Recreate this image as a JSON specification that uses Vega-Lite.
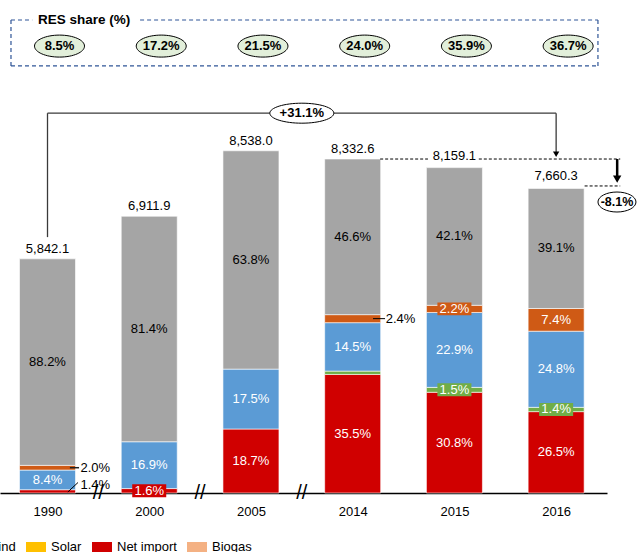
{
  "$schema": "https://vega.github.io/schema/vega-lite/v6.json",
  "width": 607,
  "height": 493,
  "autosize": {"type": "none"},
  "padding": {"left": 0, "top": 0, "right": 31, "bottom": 59},
  "background": "white",
  "config": {"view": {"stroke": null}, "font": "Liberation Sans", "text": {"font": "Liberation Sans", "fontSize": 13}},
  "datasets": {
    "seg": [
      {"idx": 0, "yr": "1990", "s": "Net import", "k": 1, "v": 81.8, "p": "1.4%"},
      {"idx": 0, "yr": "1990", "s": "Hydro", "k": 3, "v": 490.7, "p": "8.4%"},
      {"idx": 0, "yr": "1990", "s": "Natural gas", "k": 4, "v": 116.8, "p": "2.0%"},
      {"idx": 0, "yr": "1990", "s": "Lignite", "k": 5, "v": 5152.7, "p": "88.2%"},
      {"idx": 1, "yr": "2000", "s": "Net import", "k": 1, "v": 110.6, "p": "1.6%"},
      {"idx": 1, "yr": "2000", "s": "Hydro", "k": 3, "v": 1168.1, "p": "16.9%"},
      {"idx": 1, "yr": "2000", "s": "Lignite", "k": 5, "v": 5626.3, "p": "81.4%"},
      {"idx": 2, "yr": "2005", "s": "Net import", "k": 1, "v": 1596.6, "p": "18.7%"},
      {"idx": 2, "yr": "2005", "s": "Hydro", "k": 3, "v": 1494.2, "p": "17.5%"},
      {"idx": 2, "yr": "2005", "s": "Lignite", "k": 5, "v": 5447.2, "p": "63.8%"},
      {"idx": 3, "yr": "2014", "s": "Net import", "k": 1, "v": 2958.1, "p": "35.5%"},
      {"idx": 3, "yr": "2014", "s": "Wind", "k": 2, "v": 83.3, "p": ""},
      {"idx": 3, "yr": "2014", "s": "Hydro", "k": 3, "v": 1208.2, "p": "14.5%"},
      {"idx": 3, "yr": "2014", "s": "Natural gas", "k": 4, "v": 200.0, "p": "2.4%"},
      {"idx": 3, "yr": "2014", "s": "Lignite", "k": 5, "v": 3883.0, "p": "46.6%"},
      {"idx": 4, "yr": "2015", "s": "Net import", "k": 1, "v": 2513.0, "p": "30.8%"},
      {"idx": 4, "yr": "2015", "s": "Wind", "k": 2, "v": 122.4, "p": "1.5%"},
      {"idx": 4, "yr": "2015", "s": "Hydro", "k": 3, "v": 1868.4, "p": "22.9%"},
      {"idx": 4, "yr": "2015", "s": "Natural gas", "k": 4, "v": 179.5, "p": "2.2%"},
      {"idx": 4, "yr": "2015", "s": "Lignite", "k": 5, "v": 3434.9, "p": "42.1%"},
      {"idx": 5, "yr": "2016", "s": "Net import", "k": 1, "v": 2030.0, "p": "26.5%"},
      {"idx": 5, "yr": "2016", "s": "Wind", "k": 2, "v": 107.2, "p": "1.4%"},
      {"idx": 5, "yr": "2016", "s": "Hydro", "k": 3, "v": 1899.8, "p": "24.8%"},
      {"idx": 5, "yr": "2016", "s": "Natural gas", "k": 4, "v": 566.9, "p": "7.4%"},
      {"idx": 5, "yr": "2016", "s": "Lignite", "k": 5, "v": 2995.2, "p": "39.1%"}
    ],
    "tot": [
      {"idx": 0, "total": 5842.1, "tl": "5,842.1", "res": "8.5%"},
      {"idx": 1, "total": 6911.9, "tl": "6,911.9", "res": "17.2%"},
      {"idx": 2, "total": 8538.0, "tl": "8,538.0", "res": "21.5%"},
      {"idx": 3, "total": 8332.6, "tl": "8,332.6", "res": "24.0%"},
      {"idx": 4, "total": 8159.1, "tl": "8,159.1", "res": "35.9%"},
      {"idx": 5, "total": 7660.3, "tl": "7,660.3", "res": "36.7%"}
    ],
    "one": [{}]
  },
  "layer": [
    {
      "data": {"name": "seg"},
      "mark": {"type": "bar", "width": 56, "stroke": "white", "strokeWidth": 0.6},
      "encoding": {
        "x": {"field": "idx", "type": "quantitative",
          "scale": {"domain": [-0.467, 5.5], "nice": false, "zero": false, "padding": 0},
          "axis": {"values": [0, 1, 2, 3, 4, 5], "labelExpr": "['1990','2000','2005','2014','2015','2016'][datum.value]",
            "title": null, "grid": false, "ticks": false, "tickSize": 0, "domainColor": "#000", "domainWidth": 1.5,
            "labelFontSize": 13, "labelColor": "#000", "labelPadding": 12, "labelFlush": false, "labelFont": "Liberation Sans"}},
        "y": {"field": "v", "type": "quantitative", "stack": "zero",
          "scale": {"domain": [0, 12300], "nice": false, "zero": true, "padding": 0}, "axis": null},
        "color": {"field": "s", "type": "nominal",
          "scale": {"domain": ["Lignite", "Hydro", "Natural gas", "Wind", "Solar", "Net import", "Biogas"],
            "range": ["#A5A5A5", "#5B9BD5", "#CF5A15", "#70AD47", "#FFC000", "#D00000", "#F4B183"]},
          "legend": {"orient": "none", "legendX": -285, "legendY": 537, "direction": "horizontal", "title": null,
            "symbolType": "M-1,-0.5H1V0.5H-1Z", "symbolSize": 400, "symbolStrokeWidth": 0,
            "labelFontSize": 13, "labelFont": "Liberation Sans", "labelColor": "#000", "labelOffset": 5, "columnPadding": 10, "padding": 0}},
        "order": {"field": "k", "type": "quantitative"}
      }
    },
    {
      "data": {"name": "seg"},
      "mark": {"type": "point", "shape": "M-1,-0.38H1V0.38H-1Z", "size": 1156, "filled": true, "strokeWidth": 0},
      "encoding": {
        "x": {"field": "idx", "type": "quantitative"},
        "y": {"field": "v", "type": "quantitative", "stack": "zero", "bandPosition": 0.5},
        "color": {"field": "s", "type": "nominal"},
        "order": {"field": "k", "type": "quantitative"},
        "opacity": {"condition": {"test": "(datum.yr=='2000'&&datum.s=='Net import')||(datum.yr=='2015'&&(datum.s=='Wind'||datum.s=='Natural gas'))||(datum.yr=='2016'&&datum.s=='Wind')", "value": 1}, "value": 0}
      }
    },
    {
      "data": {"name": "seg"},
      "mark": {"type": "text", "baseline": "middle", "align": "center", "fontSize": 13},
      "encoding": {
        "x": {"field": "idx", "type": "quantitative"},
        "y": {"field": "v", "type": "quantitative", "stack": "zero", "bandPosition": 0.5},
        "detail": {"field": "s"},
        "order": {"field": "k", "type": "quantitative"},
        "text": {"condition": {"test": "!((datum.yr=='1990'&&(datum.s=='Net import'||datum.s=='Natural gas'))||(datum.yr=='2014'&&datum.s=='Natural gas'))", "field": "p"}, "value": ""},
        "color": {"condition": {"test": "datum.s=='Lignite'", "value": "#000"}, "value": "#fff"}
      }
    },
    {
      "data": {"name": "seg"},
      "mark": {"type": "text", "baseline": "middle", "align": "left", "dx": 33, "fontSize": 13, "color": "#000"},
      "encoding": {
        "x": {"field": "idx", "type": "quantitative"},
        "y": {"field": "v", "type": "quantitative", "stack": "zero", "bandPosition": 0.5},
        "detail": {"field": "s"},
        "order": {"field": "k", "type": "quantitative"},
        "text": {"condition": {"test": "datum.s=='Natural gas'&&(datum.yr=='1990'||datum.yr=='2014')", "field": "p"}, "value": ""}
      }
    },
    {
      "data": {"name": "seg"},
      "mark": {"type": "text", "baseline": "middle", "align": "left", "dx": 33, "dy": -6, "fontSize": 13, "color": "#000"},
      "encoding": {
        "x": {"field": "idx", "type": "quantitative"},
        "y": {"field": "v", "type": "quantitative", "stack": "zero", "bandPosition": 0.5},
        "detail": {"field": "s"},
        "order": {"field": "k", "type": "quantitative"},
        "text": {"condition": {"test": "datum.s=='Net import'&&datum.yr=='1990'", "field": "p"}, "value": ""}
      }
    },
    {"data": {"name": "one"}, "mark": {"type": "rule", "color": "#000", "strokeWidth": 1},
      "encoding": {"x": {"datum": 3.2, "type": "quantitative"}, "x2": {"datum": 3.318}, "y": {"datum": 4350, "type": "quantitative"}}},
    {"data": {"name": "one"}, "mark": {"type": "rule", "color": "#222", "strokeWidth": 1.5},
      "encoding": {"x": {"datum": 0.22, "type": "quantitative"}, "x2": {"datum": 0.31}, "y": {"datum": 631, "type": "quantitative"}}},
    {"data": {"name": "one"}, "mark": {"type": "rule", "color": "#000", "strokeWidth": 1},
      "encoding": {"x": {"datum": 0.2, "type": "quantitative"}, "x2": {"datum": 0.3}, "y": {"datum": 25, "type": "quantitative"}, "y2": {"datum": 262}}},
    {
      "data": {"name": "tot"},
      "mark": {"type": "text", "dy": -6, "baseline": "alphabetic", "fontSize": 13, "color": "#000"},
      "encoding": {"x": {"field": "idx", "type": "quantitative"}, "y": {"field": "total", "type": "quantitative"}, "text": {"field": "tl"}}
    },
    {"data": {"name": "one"}, "mark": {"type": "rule", "color": "#2F5597", "strokeWidth": 1.2, "strokeDash": [4, 3]},
      "encoding": {"x": {"datum": -0.359, "type": "quantitative"}, "x2": {"datum": -0.15}, "y": {"datum": 11801, "type": "quantitative"}}},
    {"data": {"name": "one"}, "mark": {"type": "rule", "color": "#2F5597", "strokeWidth": 1.2, "strokeDash": [4, 3]},
      "encoding": {"x": {"datum": 0.91, "type": "quantitative"}, "x2": {"datum": 5.411}, "y": {"datum": 11801, "type": "quantitative"}}},
    {"data": {"name": "one"}, "mark": {"type": "rule", "color": "#2F5597", "strokeWidth": 1.2, "strokeDash": [4, 3]},
      "encoding": {"x": {"datum": -0.359, "type": "quantitative"}, "x2": {"datum": 5.411}, "y": {"datum": 10654, "type": "quantitative"}}},
    {"data": {"name": "one"}, "mark": {"type": "rule", "color": "#2F5597", "strokeWidth": 1.2, "strokeDash": [4, 3]},
      "encoding": {"x": {"datum": -0.359, "type": "quantitative"}, "y": {"datum": 10654, "type": "quantitative"}, "y2": {"datum": 11801}}},
    {"data": {"name": "one"}, "mark": {"type": "rule", "color": "#2F5597", "strokeWidth": 1.2, "strokeDash": [4, 3]},
      "encoding": {"x": {"datum": 5.411, "type": "quantitative"}, "y": {"datum": 10654, "type": "quantitative"}, "y2": {"datum": 11801}}},
    {"data": {"name": "one"}, "mark": {"type": "text", "text": "RES share (%)", "align": "left", "baseline": "middle", "font": "Liberation Sans", "fontWeight": "bold", "fontSize": 13.5, "color": "#000"},
      "encoding": {"x": {"datum": -0.093, "type": "quantitative"}, "y": {"datum": 11801, "type": "quantitative"}}},
    {
      "data": {"name": "tot"},
      "mark": {"type": "point", "shape": "M-1,0A1,0.44,0,1,1,1,0A1,0.44,0,1,1,-1,0Z", "size": 2500, "filled": true, "fill": "#E2EFDA", "stroke": "#000", "strokeWidth": 1, "opacity": 1, "xOffset": 12},
      "encoding": {"x": {"field": "idx", "type": "quantitative"}, "y": {"datum": 11150, "type": "quantitative"}}
    },
    {
      "data": {"name": "tot"},
      "mark": {"type": "text", "dx": 12, "baseline": "middle", "font": "Liberation Sans", "fontWeight": "bold", "fontSize": 13, "color": "#000"},
      "encoding": {"x": {"field": "idx", "type": "quantitative"}, "y": {"datum": 11150, "type": "quantitative"}, "text": {"field": "res"}}
    },
    {"data": {"name": "one"}, "mark": {"type": "rule", "color": "#3A3A3A", "strokeWidth": 1.3},
      "encoding": {"x": {"datum": 0, "type": "quantitative"}, "y": {"datum": 6384, "type": "quantitative"}, "y2": {"datum": 9476}}},
    {"data": {"name": "one"}, "mark": {"type": "rule", "color": "#3A3A3A", "strokeWidth": 1.3},
      "encoding": {"x": {"datum": 0, "type": "quantitative"}, "x2": {"datum": 5}, "y": {"datum": 9476, "type": "quantitative"}}},
    {"data": {"name": "one"}, "mark": {"type": "rule", "color": "#3A3A3A", "strokeWidth": 1.3},
      "encoding": {"x": {"datum": 5, "type": "quantitative"}, "y": {"datum": 8460, "type": "quantitative"}, "y2": {"datum": 9476}}},
    {"data": {"name": "one"}, "mark": {"type": "point", "shape": "triangle-down", "size": 40, "filled": true, "color": "#000", "opacity": 1},
      "encoding": {"x": {"datum": 5, "type": "quantitative"}, "y": {"datum": 8450, "type": "quantitative"}}},
    {"data": {"name": "one"}, "mark": {"type": "point", "shape": "M-1,0A1,0.3125,0,1,1,1,0A1,0.3125,0,1,1,-1,0Z", "size": 4096, "filled": true, "fill": "#fff", "stroke": "#000", "strokeWidth": 1, "opacity": 1},
      "encoding": {"x": {"datum": 2.5, "type": "quantitative"}, "y": {"datum": 9476, "type": "quantitative"}}},
    {"data": {"name": "one"}, "mark": {"type": "text", "text": "+31.1%", "baseline": "middle", "font": "Liberation Sans", "fontWeight": "bold", "fontSize": 13, "color": "#000"},
      "encoding": {"x": {"datum": 2.5, "type": "quantitative"}, "y": {"datum": 9476, "type": "quantitative"}}},
    {"data": {"name": "one"}, "mark": {"type": "rule", "color": "#000", "strokeWidth": 1, "strokeDash": [3, 2]},
      "encoding": {"x": {"datum": 3.27, "type": "quantitative"}, "x2": {"datum": 3.74}, "y": {"datum": 8332.6, "type": "quantitative"}}},
    {"data": {"name": "one"}, "mark": {"type": "rule", "color": "#000", "strokeWidth": 1, "strokeDash": [3, 2]},
      "encoding": {"x": {"datum": 4.24, "type": "quantitative"}, "x2": {"datum": 5.63}, "y": {"datum": 8332.6, "type": "quantitative"}}},
    {"data": {"name": "one"}, "mark": {"type": "rule", "color": "#000", "strokeWidth": 1, "strokeDash": [3, 2]},
      "encoding": {"x": {"datum": 5.28, "type": "quantitative"}, "x2": {"datum": 5.63}, "y": {"datum": 7660.3, "type": "quantitative"}}},
    {"data": {"name": "one"}, "mark": {"type": "rule", "color": "#000", "strokeWidth": 2.5},
      "encoding": {"x": {"datum": 5.6, "type": "quantitative"}, "y": {"datum": 7900, "type": "quantitative"}, "y2": {"datum": 8332.6}}},
    {"data": {"name": "one"}, "mark": {"type": "point", "shape": "triangle-down", "size": 70, "filled": true, "color": "#000", "opacity": 1},
      "encoding": {"x": {"datum": 5.6, "type": "quantitative"}, "y": {"datum": 7830, "type": "quantitative"}}},
    {"data": {"name": "one"}, "mark": {"type": "point", "shape": "M-1,0A1,0.526,0,1,1,1,0A1,0.526,0,1,1,-1,0Z", "size": 1444, "filled": true, "fill": "#fff", "stroke": "#000", "strokeWidth": 1, "opacity": 1},
      "encoding": {"x": {"datum": 5.598, "type": "quantitative"}, "y": {"datum": 7260, "type": "quantitative"}}},
    {"data": {"name": "one"}, "mark": {"type": "text", "text": "-8.1%", "baseline": "middle", "font": "Liberation Sans", "fontWeight": "bold", "fontSize": 12.5, "color": "#000"},
      "encoding": {"x": {"datum": 5.598, "type": "quantitative"}, "y": {"datum": 7260, "type": "quantitative"}}},
    {"data": {"name": "one"}, "mark": {"type": "text", "text": "//", "baseline": "middle", "fontSize": 20, "color": "#000"},
      "encoding": {"x": {"datum": 0.5, "type": "quantitative"}, "y": {"datum": 0, "type": "quantitative"}}},
    {"data": {"name": "one"}, "mark": {"type": "text", "text": "//", "baseline": "middle", "fontSize": 20, "color": "#000"},
      "encoding": {"x": {"datum": 1.5, "type": "quantitative"}, "y": {"datum": 0, "type": "quantitative"}}},
    {"data": {"name": "one"}, "mark": {"type": "text", "text": "//", "baseline": "middle", "fontSize": 20, "color": "#000"},
      "encoding": {"x": {"datum": 2.5, "type": "quantitative"}, "y": {"datum": 0, "type": "quantitative"}}}
  ]
}
